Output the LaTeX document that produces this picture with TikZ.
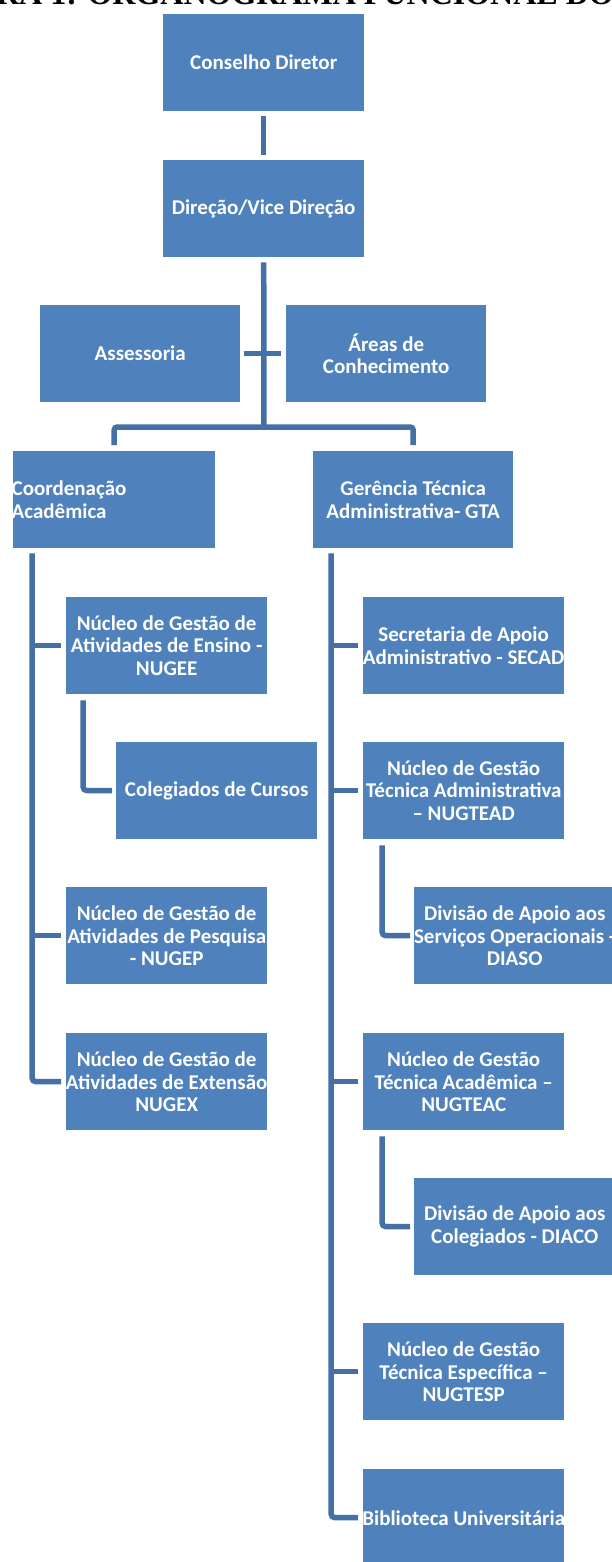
\documentclass[tikz,border=0pt]{standalone}
\usepackage{fontspec}
\setmainfont{Carlito}
\newfontfamily\titlefont{Liberation Serif}
\usetikzlibrary{calc}
\definecolor{boxblue}{HTML}{4F81BD}
\definecolor{lineblue}{HTML}{4470A6}
\begin{document}
\begin{tikzpicture}[x=1pt,y=-1pt,
  box/.style={fill=boxblue, draw=none, minimum width=201pt, minimum height=97pt, inner sep=0pt, anchor=north west},
  txt/.style={text=white, font=\bfseries\fontsize{21}{22.7}\selectfont, align=center, inner sep=0pt},
  conn/.style={draw=lineblue, line width=5.5pt},
]
\useasboundingbox (0,0) rectangle (612,1562);
\clip (0,0) rectangle (612,1562);

% title (cut off at the top)
\node[anchor=base east, inner sep=0pt, font=\titlefont\bfseries\fontsize{32}{32}\selectfont] (title) at (614,4.5) {FIGURA 1: ORGANOGRAMA FUNCIONAL DO};

% boxes
\node[box] (cd) at (163,14) {};
\node[box] (dir) at (163,160) {};
\node[box, minimum width=200pt] (ass) at (40,305) {};
\node[box, minimum width=200pt] (areas) at (286,305) {};
\node[box, minimum width=202pt] (coord) at (13,451) {};
\node[box, minimum width=200pt] (gta) at (313,451) {};
\node[box] (nugee) at (66,597) {};
\node[box] (coleg) at (116,742) {};
\node[box] (nugep) at (66,887) {};
\node[box] (nugex) at (66,1033) {};
\node[box] (secad) at (363,597) {};
\node[box] (nugtead) at (363,742) {};
\node[box] (diaso) at (414,887) {};
\node[box] (nugteac) at (363,1033) {};
\node[box] (diaco) at (414,1178) {};
\node[box] (nugtesp) at (363,1323) {};
\node[box] (bib) at (363,1469) {};

% connectors
\coordinate (hub) at (264,427);
\coordinate (lt) at ($(coord.south west)+(19,5)$);
\coordinate (rt) at ($(gta.south west)+(18,5)$);
\draw[conn, shorten <=5pt, shorten >=5pt] (cd.south) -- (dir.north);
\draw[conn, shorten <=5pt] (dir.south) -- (hub);
\draw[conn, shorten <=4pt, shorten >=5pt] (ass.east) -- (areas.west);
\draw[conn, rounded corners=3pt, shorten >=6pt] (hub) -| (coord.north);
\draw[conn, rounded corners=3pt, shorten >=6pt] (hub) -| (gta.north);

\draw[conn, rounded corners=4pt, shorten >=5pt] (lt) |- (nugex.west);
\draw[conn, shorten >=5pt] (nugee.west -| lt) -- (nugee.west);
\draw[conn, shorten >=5pt] (nugep.west -| lt) -- (nugep.west);
\draw[conn, rounded corners=4pt, shorten >=4pt] ($(nugee.south west)+(17,6)$) |- (coleg.west);

\draw[conn, rounded corners=4pt, shorten >=5pt] (rt) |- (bib.west);
\draw[conn, shorten >=5pt] (secad.west -| rt) -- (secad.west);
\draw[conn, shorten >=5pt] (nugtead.west -| rt) -- (nugtead.west);
\draw[conn, shorten >=5pt] (nugteac.west -| rt) -- (nugteac.west);
\draw[conn, shorten >=5pt] (nugtesp.west -| rt) -- (nugtesp.west);
\draw[conn, rounded corners=4pt, shorten >=4pt] ($(nugtead.south west)+(19,6)$) |- (diaso.west);
\draw[conn, rounded corners=4pt, shorten >=4pt] ($(nugteac.south west)+(19,6)$) |- (diaco.west);

% texts
\node[txt] (cd-t) at (cd.center) {Conselho Diretor};
\node[txt] (dir-t) at (dir.center) {Direção/Vice Direção};
\node[txt] (ass-t) at (ass.center) {Assessoria};
\node[txt] (areas-t) at (areas.center) {Áreas de\\Conhecimento};
\node[txt, anchor=west, align=left] (coord-t) at ([xshift=-1.5pt]coord.west) {Coordenação\\Acadêmica};
\node[txt] (gta-t) at (gta.center) {Gerência Técnica\\Administrativa- GTA};
\node[txt] (nugee-t) at (nugee.center) {Núcleo de Gestão de\\Atividades de Ensino -\\NUGEE};
\node[txt] (coleg-t) at (coleg.center) {Colegiados de Cursos};
\node[txt] (nugep-t) at (nugep.center) {Núcleo de Gestão de\\Atividades de Pesquisa\\- NUGEP};
\node[txt] (nugex-t) at (nugex.center) {Núcleo de Gestão de\\Atividades de Extensão\\NUGEX};
\node[txt] (secad-t) at (secad.center) {Secretaria de Apoio\\Administrativo - SECAD};
\node[txt] (nugtead-t) at (nugtead.center) {Núcleo de Gestão\\Técnica Administrativa\\– NUGTEAD};
\node[txt] (diaso-t) at (diaso.center) {Divisão de Apoio aos\\Serviços Operacionais -\\DIASO};
\node[txt] (nugteac-t) at (nugteac.center) {Núcleo de Gestão\\Técnica Acadêmica –\\NUGTEAC};
\node[txt] (diaco-t) at (diaco.center) {Divisão de Apoio aos\\Colegiados - DIACO};
\node[txt] (nugtesp-t) at (nugtesp.center) {Núcleo de Gestão\\Técnica Específica –\\NUGTESP};
\node[txt] (bib-t) at (bib.center) {Biblioteca Universitária};
\end{tikzpicture}
\end{document}
